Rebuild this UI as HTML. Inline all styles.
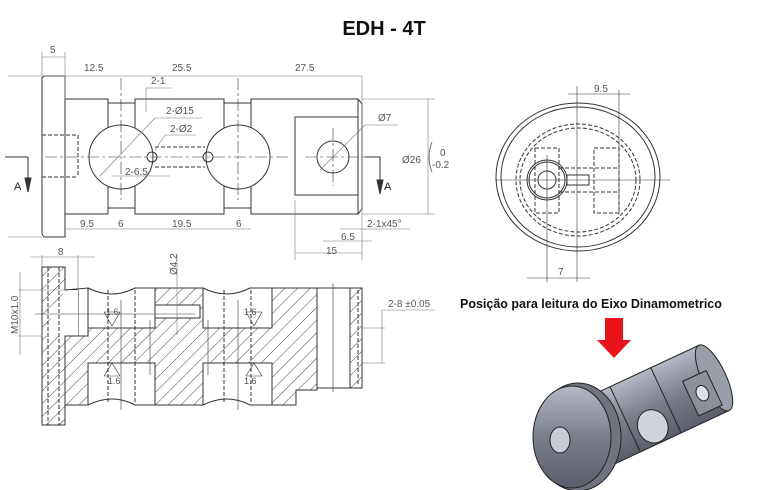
<!DOCTYPE html>
<html><head><meta charset="utf-8"><style>
html,body{margin:0;padding:0;background:#fff;width:775px;height:490px;overflow:hidden}
svg{display:block}
text{font-family:"Liberation Sans",sans-serif;fill:#555}
</style></head><body>
<svg width="775" height="490" viewBox="0 0 775 490" xmlns="http://www.w3.org/2000/svg">
<defs>
<pattern id="h" width="9" height="9" patternUnits="userSpaceOnUse" patternTransform="rotate(45)">
<line x1="0" y1="0" x2="0" y2="9" stroke="#333" stroke-width="0.9"/></pattern>
<linearGradient id="g" x1="0" y1="0" x2="0" y2="1"><stop offset="0" stop-color="#b4b8c4"/><stop offset="0.5" stop-color="#7b7f8c"/><stop offset="1" stop-color="#5a5e6a"/></linearGradient>
</defs>
<text x="384" y="35" text-anchor="middle" font-size="20" font-weight="bold" style="fill:#111">EDH - 4T</text>

<!-- TOP VIEW -->
<g stroke="#333" stroke-width="1" fill="none">
<path d="M42,78 L44,76 L65,76 L65,237 L44,237 L42,234 Z"/>
<path d="M65,99 L108,99 L108,103 L135,103 L135,99 L224,99 L224,103 L251,103 L251,99 L358,99 L362,104 L362,209 L358,214 L251,214 L251,208 L224,208 L224,214 L135,214 L135,208 L108,208 L108,214 L65,214"/>
<line x1="358" y1="99" x2="358" y2="214"/>
<line x1="108" y1="103" x2="108" y2="208"/><line x1="135" y1="103" x2="135" y2="208"/>
<line x1="224" y1="103" x2="224" y2="208"/><line x1="251" y1="103" x2="251" y2="208"/>
<circle cx="121" cy="157" r="32" fill="#fff"/><circle cx="238" cy="157" r="32" fill="#fff"/>
<rect x="295" y="117" width="63" height="78"/>
<circle cx="333" cy="157" r="16"/>
<circle cx="152" cy="157" r="5"/><circle cx="208" cy="157" r="5"/>
<g stroke-dasharray="4,2"><line x1="155" y1="147" x2="205" y2="147"/><line x1="155" y1="167" x2="205" y2="167"/>
<line x1="42" y1="135" x2="78" y2="135"/><line x1="42" y1="177" x2="78" y2="177"/><line x1="78" y1="135" x2="78" y2="177"/>
<line x1="358" y1="117" x2="358" y2="195"/></g>
<g stroke-width="0.6" stroke-dasharray="12,3,3,3"><line x1="45" y1="157" x2="290" y2="157"/><line x1="305" y1="157" x2="375" y2="157"/>
<line x1="121" y1="78" x2="121" y2="200"/><line x1="238" y1="78" x2="238" y2="200"/><line x1="333" y1="128" x2="333" y2="186"/></g>
<g stroke="#777" stroke-width="0.6">
<line x1="42" y1="52" x2="42" y2="76"/><line x1="65" y1="52" x2="65" y2="99"/><line x1="42" y1="57" x2="65" y2="57"/>
<line x1="8" y1="76" x2="362" y2="76"/><line x1="362" y1="76" x2="362" y2="260"/>
<line x1="8" y1="237" x2="42" y2="237"/>
<line x1="65" y1="229" x2="251" y2="229"/>
<line x1="362" y1="99" x2="435" y2="99"/><line x1="362" y1="214" x2="435" y2="214"/><line x1="428" y1="99" x2="428" y2="214"/>
<line x1="295" y1="200" x2="295" y2="260"/><line x1="295" y1="253" x2="362" y2="253"/>
<line x1="323" y1="241" x2="372" y2="241"/><line x1="340" y1="229" x2="410" y2="229"/>
<line x1="100" y1="176" x2="155" y2="118"/><line x1="155" y1="118" x2="202" y2="118"/>
<line x1="155" y1="150" x2="165" y2="135"/><line x1="165" y1="135" x2="196" y2="135"/>
<line x1="320" y1="170" x2="365" y2="125"/><line x1="365" y1="125" x2="398" y2="125"/>
<line x1="146" y1="88" x2="146" y2="112"/><line x1="146" y1="88" x2="172" y2="88"/>
<line x1="112" y1="176" x2="170" y2="176"/>
</g>
<polyline points="28,157 28,178" /><polyline points="365,157 380,157 380,180"/>
<polyline points="5,157 28,157"/>
<path d="M25,178 L31,178 L28,192 Z" fill="#333"/><path d="M377,180 L383,180 L380,194 Z" fill="#333"/>
</g>
<g font-size="10">
<text x="50" y="53">5</text><text x="84" y="71">12.5</text><text x="172" y="71">25.5</text><text x="295" y="71">27.5</text>
<text x="151" y="84">2-1</text><text x="166" y="114">2-Ø15</text><text x="170" y="132">2-Ø2</text><text x="378" y="121">Ø7</text>
<text x="125" y="175">2-6.5</text>
<text x="80" y="227">9.5</text><text x="118" y="227">6</text><text x="172" y="227">19.5</text><text x="236" y="227">6</text>
<text x="367" y="227">2-1x45°</text><text x="341" y="240">6.5</text><text x="326" y="254">15</text>
<text x="402" y="163">Ø26</text><text x="440" y="156">0</text><text x="432" y="168">-0.2</text>
<text x="14" y="190" font-size="11" style="fill:#222">A</text><text x="384" y="190" font-size="11" style="fill:#222">A</text>
</g>
<path d="M432,142 Q426,157 432,172" stroke="#555" fill="none" stroke-width="0.8"/>

<!-- SECTION VIEW -->
<g stroke="#333" stroke-width="1">
<path d="M42,267 L65,267 L65,290 L78,290 L78,336 L65,336 L65,425 L42,425 Z" fill="url(#h)"/>
<path d="M65,290 L78,290 L78,336 L42,336 Z" fill="#fff" stroke="none"/>
<path d="M65,336 L88,336 L88,328 L155,328 L155,288 L203,288 L203,328 L272,328 L272,288 L317,288 L317,390 L296,390 L296,405 L272,405 L272,363 L203,363 L203,405 L155,405 L155,363 L88,363 L88,405 L65,405 Z" fill="url(#h)"/>
<path d="M350,288 L362,288 L362,388 L350,388 Z" fill="url(#h)"/>
<path d="M65,290 L88,288 L88,328 M88,288 Q112,300 135,288 L155,288 M203,288 Q227,300 250,288 L272,288 M317,288 L350,288 M317,388 L350,388 M88,405 Q112,393 135,405 L155,405 M203,405 Q227,393 250,405 L272,405" fill="none"/>
<path d="M155,305 L200,305 L200,318 L155,318 Z" fill="#fff"/>
<g stroke-dasharray="4,2" fill="none"><line x1="48" y1="267" x2="48" y2="425"/><line x1="59" y1="267" x2="59" y2="425"/>
<line x1="108" y1="290" x2="108" y2="402"/><line x1="135" y1="290" x2="135" y2="402"/><line x1="224" y1="290" x2="224" y2="402"/><line x1="251" y1="290" x2="251" y2="402"/><line x1="358" y1="290" x2="358" y2="386"/></g>
<g stroke-width="0.6"><line x1="35" y1="314" x2="195" y2="314"/><line x1="121" y1="300" x2="121" y2="410"/><line x1="238" y1="300" x2="238" y2="410"/><line x1="333" y1="283" x2="333" y2="392"/>
<line x1="150" y1="320" x2="150" y2="375"/><line x1="208" y1="320" x2="208" y2="375"/></g>
</g>
<g stroke="#777" stroke-width="0.6" fill="none">
<line x1="42" y1="255" x2="42" y2="267"/><line x1="78" y1="255" x2="78" y2="290"/><line x1="30" y1="257" x2="95" y2="257"/>
<line x1="20" y1="272" x2="20" y2="355"/><line x1="18" y1="290" x2="65" y2="290"/><line x1="18" y1="336" x2="42" y2="336"/>
<line x1="177" y1="255" x2="177" y2="335"/>
<line x1="362" y1="328" x2="385" y2="328"/><line x1="362" y1="363" x2="385" y2="363"/><line x1="382" y1="310" x2="382" y2="363"/><line x1="382" y1="310" x2="435" y2="310"/>
<path d="M104,312 L112,326 L120,312 Z M246,312 L254,326 L262,312 Z M104,376 L112,363 L120,376 Z M246,376 L254,363 L262,376 Z" stroke="#333"/>
</g>
<g font-size="9" style="fill:#222"><text x="106" y="315">1.6</text><text x="244" y="315">1.6</text><text x="108" y="384">1.6</text><text x="244" y="384">1.6</text></g>
<g font-size="10"><text x="58" y="255">8</text><text x="388" y="307">2-8 ±0.05</text>
<text transform="translate(177,275) rotate(-90)">Ø4.2</text><text transform="translate(18,334) rotate(-90)">M10x1.0</text></g>

<!-- RIGHT VIEW -->
<g stroke="#333" stroke-width="1" fill="none">
<ellipse cx="578" cy="177" rx="82" ry="74"/><ellipse cx="578" cy="177" rx="77" ry="70"/>
<g stroke-dasharray="4,2"><ellipse cx="578" cy="180" rx="62" ry="56"/><ellipse cx="578" cy="180" rx="58" ry="52"/>
<rect x="535" y="148" width="24" height="65"/><rect x="594" y="148" width="25" height="65"/>
<line x1="559" y1="168" x2="619" y2="168"/><line x1="559" y1="192" x2="619" y2="192"/></g>
<circle cx="547" cy="180" r="20"/><circle cx="547" cy="180" r="18"/><circle cx="547" cy="180" r="9"/>
<rect x="567" y="175" width="22" height="10"/>
<g stroke-width="0.6"><line x1="495" y1="180" x2="670" y2="180"/><line x1="577" y1="86" x2="577" y2="282"/><line x1="547" y1="155" x2="547" y2="282"/><line x1="619" y1="90" x2="619" y2="215"/>
<line x1="568" y1="94" x2="630" y2="94"/><line x1="527" y1="278" x2="590" y2="278"/></g>
</g>
<g font-size="10"><text x="594" y="92">9.5</text><text x="558" y="275">7</text></g>

<text x="460" y="308" font-size="12.5" font-weight="bold" style="fill:#111">Posição para leitura do Eixo Dinamometrico</text>
<path d="M605,318 L623,318 L623,340 L631,340 L614,358 L597,340 L605,340 Z" fill="#e8141c"/>

<!-- 3D -->
<g transform="translate(598,432) rotate(-25)" stroke="#222" stroke-width="1">
<rect x="0" y="-36" width="128" height="72" fill="url(#g)"/>
<ellipse cx="128" cy="0" rx="12" ry="36" fill="#9a9ea9"/>
<line x1="30" y1="-36" x2="30" y2="36"/><line x1="75" y1="-36" x2="75" y2="36"/>
<ellipse cx="52" cy="18" rx="15" ry="17" fill="#d0d3da"/>
<rect x="98" y="-10" width="26" height="38" fill="#8c909b"/>
<ellipse cx="111" cy="9" rx="6" ry="8" fill="#dde0e6"/>
</g>
<ellipse cx="578" cy="437" rx="43" ry="54" fill="#70747f" stroke="#222"/>
<ellipse cx="572" cy="437" rx="39" ry="51" fill="url(#g)" stroke="#222"/>
<ellipse cx="560" cy="440" rx="10" ry="13" fill="#c9ccd4" stroke="#222"/>
</svg>
</body></html>
